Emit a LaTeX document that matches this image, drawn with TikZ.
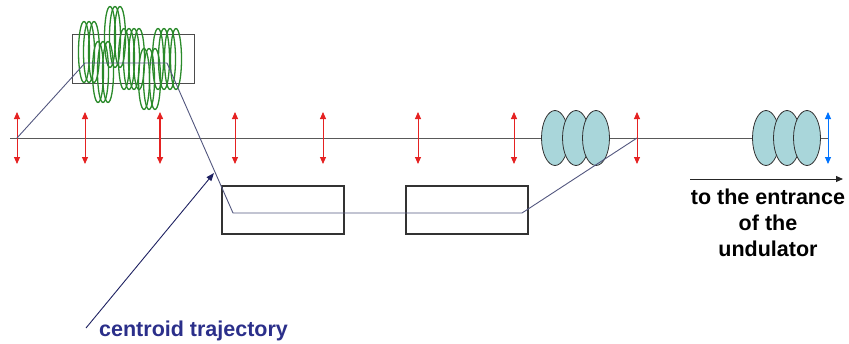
\documentclass[tikz,border=0pt]{standalone}
\usepackage{fontspec}
\setmainfont{Liberation Sans}
\usetikzlibrary{shapes.geometric,arrows.meta}
\definecolor{kickred}{HTML}{E52222}
\definecolor{quadfill}{HTML}{A9D6DA}
\definecolor{trajcol}{HTML}{53577F}
\definecolor{labelblue}{HTML}{2B2F8A}
\definecolor{coilgreen}{HTML}{2A8A2A}
\tikzset{
  beamline/.style={draw=black!65, line width=0.9pt},
  kicker/.style={draw=kickred, line width=0.9pt, {Triangle[width=6pt,length=7pt]}-{Triangle[width=6pt,length=7pt]}, kickred},
  kickerb/.style={kicker, draw=blue!55!cyan, blue!55!cyan},
  quad/.style={ellipse, draw=black!80, fill=quadfill, line width=0.8pt, minimum width=27pt, minimum height=55pt, inner sep=0pt},
  chicanebox/.style={draw=black!80, line width=1.1pt, minimum width=122pt, minimum height=48pt, inner sep=0pt},
  coil/.style={draw=coilgreen, line width=1.3pt},
  traj/.style={draw=trajcol, line width=0.9pt},
  bigtext/.style={font=\bfseries\fontsize{21.5}{26}\selectfont, align=center, inner sep=0pt},
}
\begin{document}
\begin{tikzpicture}[x=1pt,y=-1pt]
\useasboundingbox (0,0) rectangle (849,343);
% beam axis
\coordinate (axL) at (10,138);
\coordinate (axR) at (828,138);
\draw[beamline] (axL) -- (axR);

% focusing lenses drawn as ellipses
\node[quad] (q1) at (555,138) {};
\node[quad] (q2) at (576,138) {};
\node[quad] (q3) at (596,138) {};
\node[quad] (q4) at (766,138) {};
\node[quad] (q5) at (787,138) {};
\node[quad] (q6) at (807,138) {};

% chicane dipoles
\node[chicanebox] (b1) at (283,210) {};
\node[chicanebox] (b2) at (467,210) {};
% modulator box with the helical coils
\node[chicanebox, draw=black!70, line width=0.9pt, minimum height=49pt] (mod) at (133,58.5) {};
\foreach \cx/\cy in {84/52,89/52,94/52, 98/72,103/72,108/72, 110/37,115/37,120/37,
                     124/59,129/59,134/59,139/59, 144/79,149/79,155/79,
                     158/59,164/59,170/59,176/59}
  \draw[coil] (\cx,\cy) ellipse [x radius=5.5, y radius=30.5];

% vertical correctors along the beam line
\foreach \i/\x in {1/17,2/85,3/160,4/235,5/323,6/418,7/514,8/637}{
  \coordinate (k\i t) at (\x,112);
  \coordinate (k\i b) at (\x,164);
}
\foreach \i in {1,2,4,5,6,7,8}
  \draw[kicker] (k\i t) -- (k\i b);
\draw[kicker, line width=1.5pt] (k3t) -- (k3b);
\coordinate (kbt) at (828,112);
\coordinate (kbb) at (828,164);
\draw[kickerb] (kbt) -- (kbb);

% centroid trajectory
\coordinate (t0) at (17,138);
\coordinate (t1) at (85,63);
\coordinate (t2) at (167,63);
\coordinate (t3) at (233,213);
\coordinate (t4) at (522,213);
\coordinate (t5) at (637,138);
\draw[traj] (t0) -- (t1) -- (t2) -- (t3) -- (t4) -- (t5);

% label pointing at the trajectory
\node[bigtext, text=labelblue, anchor=base west] (lab) at (99,336) {centroid trajectory};
\coordinate (p0) at (86,328);
\coordinate (p1) at (214,173);
\draw[draw=labelblue!70!black, line width=0.9pt, -{Triangle[width=6pt,length=8pt]}, labelblue!70!black] (p0) -- (p1);

% exit direction
\coordinate (e0) at (690,179);
\coordinate (e1) at (843,179);
\draw[black!85, line width=1pt, -{Triangle[width=6pt,length=7pt]}] (e0) -- (e1);
\node[bigtext, anchor=north] (exit) at (768,189) {to the entrance\\of the\\undulator};
\end{tikzpicture}
\end{document}
